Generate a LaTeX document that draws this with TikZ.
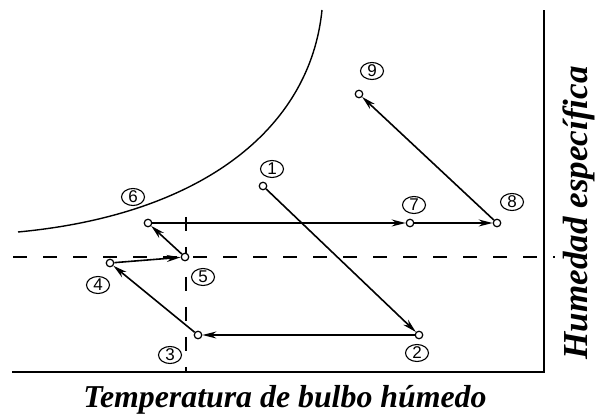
\documentclass[tikz,border=0pt]{standalone}
\usepackage{fontspec}
\setmainfont{Liberation Serif}
\setsansfont{Liberation Sans}
\usetikzlibrary{arrows.meta,shapes.geometric}
\begin{document}
\begin{tikzpicture}[x=1pt,y=-1pt,
  pt/.style={circle,draw,fill=white,line width=1.2pt,minimum size=7.5pt,inner sep=0pt},
  num/.style={ellipse,draw,line width=1.1pt,minimum width=23pt,minimum height=17pt,inner sep=0pt,font=\sffamily\fontsize{17}{17}\selectfont},
  flow/.style={line width=1.6pt,-{Stealth[length=14pt,width=7pt]}},
  dashline/.style={line width=1.7pt,dash pattern=on 14pt off 16pt},
  axis/.style={line width=1.9pt},
]
\useasboundingbox (0,0) rectangle (595,419);
% axes
\draw[axis] (12,372) -- (544,372) -- (544,10);
% saturation curve
\draw[line width=1.4pt] (18,232) .. controls (200,215) and (310,130) .. (322,10);
% dashed reference lines
\draw[dashline] (13,257) -- (555,257);
\draw[dashline] (186,217) -- (186,372);
% state points
\node[pt] (p1) at (263,186) {};
\node[pt] (p2) at (419,335) {};
\node[pt] (p3) at (198,335) {};
\node[pt] (p4) at (110,263) {};
\node[pt] (p5) at (185,257) {};
\node[pt] (p6) at (148,223) {};
\node[pt] (p7) at (410,223) {};
\node[pt] (p8) at (497,223) {};
\node[pt] (p9) at (359,94) {};
% labels
\node[num] (n1) at (272,169) {1};
\node[num] (n2) at (417,353) {2};
\node[num] (n3) at (170,355) {3};
\node[num] (n4) at (98,285) {4};
\node[num] (n5) at (203,277) {5};
\node[num] (n6) at (133,197) {6};
\node[num] (n7) at (414,205) {7};
\node[num] (n8) at (512,202) {8};
\node[num] (n9) at (372,71) {9};
% process lines
\draw[flow] (p1) -- (p2);
\draw[flow] (p2) -- (p3);
\draw[flow] (p3) -- (p4);
\draw[flow] (p4) -- (p5);
\draw[flow] (p5) -- (p6);
\draw[flow] (p6) -- (p7);
\draw[flow] (p7) -- (p8);
\draw[flow] (p8) -- (p9);
% axis titles
\node[anchor=base,inner sep=0pt] (xt) at (285,408) {\resizebox{403pt}{!}{\bfseries\itshape Temperatura de bulbo húmedo}};
\node[anchor=base,inner sep=0pt,rotate=90] (yt) at (587,213) {\resizebox{293pt}{!}{\bfseries\itshape Humedad específica}};
\end{tikzpicture}
\end{document}
